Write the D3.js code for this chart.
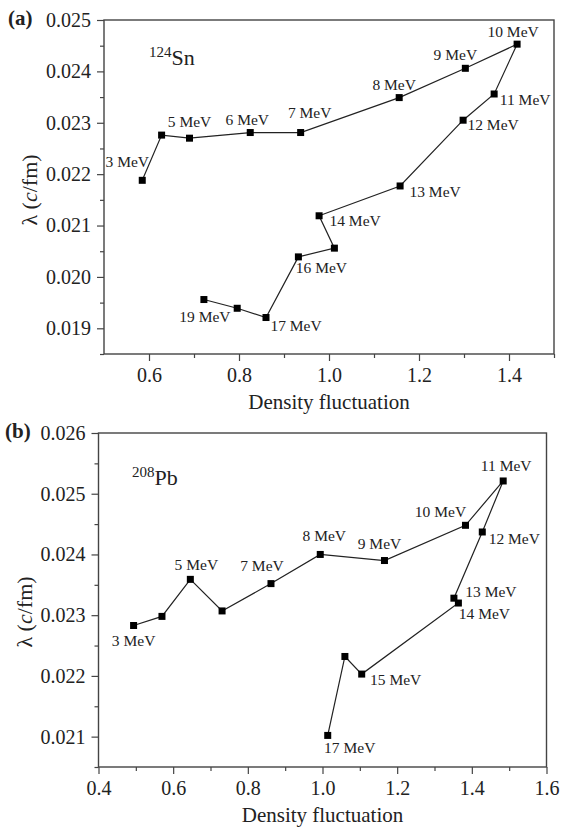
<!DOCTYPE html>
<meta charset="utf-8"/>
<html>
  <head>
    <script src="https://d3js.org/d3.v7.min.js"></script>
    <style>
      body { margin: 0; background: #fff; }
      text { font-family: 'Liberation Serif', 'Times New Roman', serif; fill: #222; }
    </style>
  </head>
  <body>
<script type="text/javascript">
// panel (a): 124Sn
var snEnergy  = [3, 4, 5, 6, 7, 8, 9, 10, 11, 12, 13, 14, 15, 16, 17, 18, 19];
var snDensity = [0.585, 0.628, 0.690, 0.825, 0.937, 1.156, 1.303, 1.418, 1.367, 1.298, 1.158, 0.978, 1.012, 0.932, 0.860, 0.796, 0.722];
var snLambda  = [0.02188, 0.02276, 0.02270, 0.02281, 0.02281, 0.02349, 0.02406, 0.02453, 0.02356, 0.02305, 0.02177, 0.02119, 0.02056, 0.02039, 0.01921, 0.01939, 0.01956];
var snLabeled = [3, 5, 6, 7, 8, 9, 10, 11, 12, 13, 14, 16, 17, 19];
var snXTicks  = [0.6, 0.8, 1.0, 1.2, 1.4];
var snYTicks  = [0.019, 0.020, 0.021, 0.022, 0.023, 0.024, 0.025];

// panel (b): 208Pb
var pbEnergy  = [3, 4, 5, 6, 7, 8, 9, 10, 11, 12, 13, 14, 15, 16, 17];
var pbDensity = [0.494, 0.570, 0.646, 0.731, 0.862, 0.994, 1.166, 1.383, 1.484, 1.428, 1.352, 1.364, 1.105, 1.060, 1.014];
var pbLambda  = [0.02283, 0.02298, 0.02359, 0.02307, 0.02352, 0.02400, 0.02390, 0.02448, 0.02521, 0.02437, 0.02328, 0.02320, 0.02203, 0.02232, 0.02102];
var pbLabeled = [3, 5, 7, 8, 9, 10, 11, 12, 13, 14, 15, 17];
var pbXTicks  = [0.4, 0.6, 0.8, 1.0, 1.2, 1.4, 1.6];
var pbYTicks  = [0.021, 0.022, 0.023, 0.024, 0.025, 0.026];

// where each energy label sits relative to its marker (px)
var snLabelOffset = {3: [-15, -13], 5: [0, -11], 6: [-3, -8], 7: [9, -15], 8: [-5, -8], 9: [-10, -8],
  10: [-4, -7], 11: [31, 11], 12: [30, 10], 13: [35, 11], 14: [36, 10], 16: [23, 16], 17: [30, 13], 19: [1, 22]};
var pbLabelOffset = {3: [0, 20], 5: [6, -9], 7: [-9, -13], 8: [4, -13], 9: [-5, -12], 10: [-25, -8],
  11: [3, -10], 12: [32, 12], 13: [37, -1], 14: [26, 16], 15: [34, 11], 17: [22, 18]};

var svg = d3.select('body').append('svg')
    .attr('width', 563)
    .attr('height', 829);

function drawPanel(p) {
  var x = d3.scaleLinear().domain(p.xDomain).range([p.left, p.right]);
  var y = d3.scaleLinear().domain(p.yDomain).range([p.bottom, p.top]);
  var g = svg.append('g');

  // minor ticks halfway between the majors
  var xMinor = [], yMinor = [];
  for (var i = 0; i < p.xTicks.length - 1; i++) xMinor.push((p.xTicks[i] + p.xTicks[i + 1]) / 2);
  for (var j = 0; j < p.yTicks.length - 1; j++) yMinor.push((p.yTicks[j] + p.yTicks[j + 1]) / 2);
  if (p.xTicks[p.xTicks.length - 1] < p.xDomain[1] - 1e-9) xMinor.push(p.xTicks[p.xTicks.length - 1] + 0.1);
  if (p.yTicks[0] > p.yDomain[0] + 1e-9) yMinor.push(p.yTicks[0] - 0.0005);

  var xAxis = g.append('g').attr('transform', 'translate(0,' + p.bottom + ')')
      .call(d3.axisBottom(x).tickValues(p.xTicks).tickFormat(d3.format('.1f')).tickSize(7).tickSizeOuter(0).tickPadding(7));
  var xAxisMinor = g.append('g').attr('transform', 'translate(0,' + p.bottom + ')')
      .call(d3.axisBottom(x).tickValues(xMinor).tickFormat('').tickSize(4).tickSizeOuter(0));
  var yAxis = g.append('g').attr('transform', 'translate(' + p.left + ',0)')
      .call(d3.axisLeft(y).tickValues(p.yTicks).tickFormat(d3.format('.3f')).tickSize(7).tickSizeOuter(0).tickPadding(6));
  var yAxisMinor = g.append('g').attr('transform', 'translate(' + p.left + ',0)')
      .call(d3.axisLeft(y).tickValues(yMinor).tickFormat('').tickSize(4).tickSizeOuter(0));
  [xAxis, xAxisMinor, yAxis, yAxisMinor].forEach(function(a) {
    a.select('.domain').remove();
    a.selectAll('line').attr('stroke', '#444').attr('stroke-width', 1.2);
    a.selectAll('text').style('font-size', '20px').attr('fill', '#222')
      .style('font-family', "'Liberation Serif', serif");
  });

  g.append('rect')
      .attr('x', p.left).attr('y', p.top)
      .attr('width', p.right - p.left).attr('height', p.bottom - p.top)
      .attr('fill', 'none').attr('stroke', '#444').attr('stroke-width', 1.4);

  var pts = p.energy.map(function(e, i) { return {e: e, d: p.density[i], l: p.lambda[i]}; });

  var line = d3.line()
      .x(function(d) { return x(d.d); })
      .y(function(d) { return y(d.l); });
  g.append('path')
      .attr('d', line(pts))
      .attr('fill', 'none')
      .attr('stroke', '#222')
      .attr('stroke-width', 1.2);

  g.append('g').selectAll('rect')
      .data(pts)
      .enter()
      .append('rect')
      .attr('x', function(d) { return x(d.d) - 3.5; })
      .attr('y', function(d) { return y(d.l) - 3.5; })
      .attr('width', 7)
      .attr('height', 7)
      .attr('fill', '#000');

  g.append('g').selectAll('text')
      .data(pts.filter(function(d) { return p.labeled.indexOf(d.e) >= 0; }))
      .enter()
      .append('text')
      .attr('x', function(d) { return x(d.d) + p.offsets[d.e][0]; })
      .attr('y', function(d) { return y(d.l) + p.offsets[d.e][1]; })
      .attr('text-anchor', 'middle')
      .style('font-size', '15.5px')
      .text(function(d) { return d.e + ' MeV'; });

  // axis titles
  g.append('text')
      .attr('x', (p.left + p.right) / 2)
      .attr('y', p.bottom + 55)
      .attr('text-anchor', 'middle')
      .style('font-size', '21px')
      .text('Density fluctuation');

  var yt = g.append('text')
      .attr('transform', 'translate(' + p.yTitleX + ',' + p.yTitleY + ') rotate(-90)')
      .attr('text-anchor', 'middle')
      .style('font-size', '22px');
  yt.append('tspan').text('\u03bb (');
  yt.append('tspan').style('font-style', 'italic').text('c');
  yt.append('tspan').text('/fm)');

  // panel letter
  g.append('text')
      .attr('x', p.letterX).attr('y', p.letterY)
      .style('font-size', '21px')
      .style('font-weight', 'bold')
      .text(p.letter);

  // nucleus label
  var nl = g.append('text')
      .attr('x', p.nucX).attr('y', p.nucY)
      .style('font-size', '22px');
  nl.append('tspan').attr('dy', -8).style('font-size', '15px').text(p.mass);
  nl.append('tspan').attr('dy', 8).text(p.element);
}

drawPanel({
  energy: snEnergy, density: snDensity, lambda: snLambda, labeled: snLabeled, offsets: snLabelOffset,
  xTicks: snXTicks, yTicks: snYTicks,
  xDomain: [0.5, 1.5], yDomain: [0.0185, 0.025],
  left: 104, right: 554, top: 20, bottom: 354,
  yTitleX: 37, yTitleY: 190,
  letter: '(a)', letterX: 8, letterY: 25,
  mass: '124', element: 'Sn', nucX: 149, nucY: 65
});

drawPanel({
  energy: pbEnergy, density: pbDensity, lambda: pbLambda, labeled: pbLabeled, offsets: pbLabelOffset,
  xTicks: pbXTicks, yTicks: pbYTicks,
  xDomain: [0.4, 1.6], yDomain: [0.0205, 0.026],
  left: 98.5, right: 546.5, top: 433, bottom: 767,
  yTitleX: 32, yTitleY: 612,
  letter: '(b)', letterX: 5, letterY: 438,
  mass: '208', element: 'Pb', nucX: 132, nucY: 485
});
</script>
  </body>
</html>
